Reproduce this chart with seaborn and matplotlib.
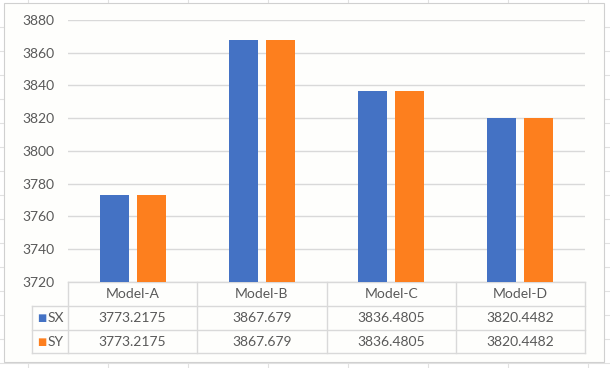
import matplotlib
matplotlib.use("Agg")
import matplotlib.pyplot as plt
import seaborn as sns
import pandas as pd
from matplotlib.lines import Line2D

# data
models = ["Model-A", "Model-B", "Model-C", "Model-D"]
sx = [3773.2175, 3867.679, 3836.4805, 3820.4482]
sy = [3773.2175, 3867.679, 3836.4805, 3820.4482]
series = ["SX", "SY"]
yticks = [3720, 3740, 3760, 3780, 3800, 3820, 3840, 3860, 3880]

colors = ["#4472C4", "#FD7F1E"]
grid_c = "#D9D9D9"
text_c = "#595959"

df = pd.DataFrame({
    "model": models * 2,
    "series": ["SX"] * len(models) + ["SY"] * len(models),
    "value": sx + sy,
})

plt.rcParams["font.family"] = ["Lato", "DejaVu Sans"]
FS = 10

W, H = 610, 368
fig = plt.figure(figsize=(W / 100, H / 100), dpi=100)
fig.patch.set_facecolor("white")

# spreadsheet cell lines peeking around the chart object
for x in range(28, 610, 80):
    fig.add_artist(Line2D([x / W, x / W], [0, 1], color="#E1E1E1", lw=0.8, zorder=0))
for y in range(27, 368, 24):
    fig.add_artist(Line2D([0, 1], [1 - y / H, 1 - y / H], color="#E1E1E1", lw=0.8, zorder=0))
chart_bg = plt.Rectangle((4 / W, 1 - 362 / H), 600 / W, 359 / H, transform=fig.transFigure,
                         facecolor="#FEFEFC", edgecolor="#D0D0D0", lw=0.8, zorder=0.5)
fig.add_artist(chart_bg)

left, right, top, bottom = 68, 585, 20, 282
ax = fig.add_axes([left / W, 1 - bottom / H, (right - left) / W, (bottom - top) / H])
ax.set_zorder(2)
ax.set_facecolor("none")

sns.barplot(data=df, x="model", y="value", hue="series", palette=colors, saturation=1,
            width=0.572, gap=0.216, ax=ax, legend=False, zorder=3)

ax.set_ylim(3720, 3880)
ax.set_xlim(-0.5, len(models) - 0.5)
ax.set_yticks(yticks)
ax.set_yticklabels([str(t) for t in yticks], color=text_c, fontsize=FS)
ax.tick_params(axis="y", length=0, pad=10)
ax.tick_params(axis="x", length=0, labelbottom=False)
ax.set_xlabel("")
ax.set_ylabel("")
for s in ax.spines.values():
    s.set_visible(False)
ax.yaxis.grid(True, color=grid_c, lw=1, zorder=0)
ax.set_axisbelow(True)

# data table under the plot (axes-fraction coords)
ph = bottom - top
row_lines = [0, -24 / ph, -48 / ph, -71 / ph]
leg_x = (32 - left) / (right - left)
n = len(models)
tk = dict(transform=ax.transAxes, clip_on=False)
ax.plot([0, 1], [row_lines[0]] * 2, color=grid_c, lw=1, **tk)
for yl in row_lines[1:]:
    ax.plot([leg_x, 1], [yl, yl], color=grid_c, lw=1, **tk)
for i in range(n + 1):
    ax.plot([i / n, i / n], [0, row_lines[-1]], color=grid_c, lw=1, **tk)
ax.plot([leg_x, leg_x], [row_lines[1], row_lines[-1]], color=grid_c, lw=1, **tk)

for i, m in enumerate(models):
    xc = (i + 0.5) / n
    ax.text(xc, (row_lines[0] + row_lines[1]) / 2, m, ha="center", va="center",
            color=text_c, fontsize=FS, **tk)
for r, (name, vals, c) in enumerate(zip(series, [sx, sy], colors)):
    yc = (row_lines[r + 1] + row_lines[r + 2]) / 2
    ax.text(leg_x + 0.010, yc, "\u25A0", ha="left", va="center", color=c,
            fontsize=7, family="DejaVu Sans", **tk)
    ax.text(leg_x + 0.031, yc, name, ha="left", va="center", color=text_c,
            fontsize=FS, **tk)
    for i, v in enumerate(vals):
        ax.text((i + 0.5) / n, yc, str(v),
                ha="center", va="center", color=text_c, fontsize=FS, **tk)

fig.savefig("out.png", dpi=100, facecolor=fig.get_facecolor())
